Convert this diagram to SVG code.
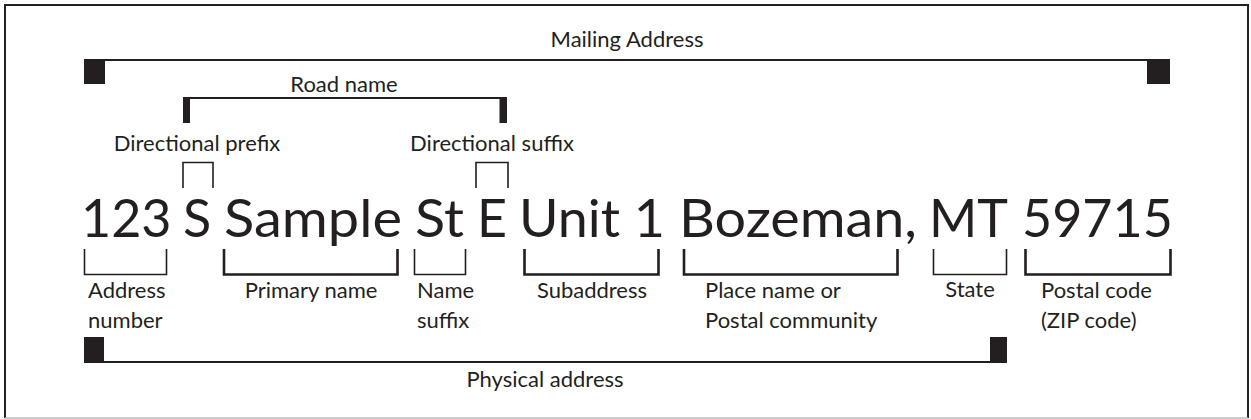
<svg xmlns="http://www.w3.org/2000/svg" width="1251" height="419" viewBox="0 0 1251 419">
<style>
text{font-family:Lato,"Liberation Sans",sans-serif;fill:#231f20}
.lbl{font-size:22px}
.big{font-size:52px}
.mid{text-anchor:middle}
.thin{fill:none;stroke:#231f20;stroke-width:1.6}
.thick{fill:none;stroke:#231f20;stroke-width:2.6}
.bar{fill:#231f20}
.ln{stroke:#231f20;stroke-width:2}
</style>
<rect x="0" y="0" width="1251" height="419" fill="#fff"/>
<path d="M5,418 V5 H1248 V418" fill="none" stroke="#222" stroke-width="2"/>
<line x1="5" y1="418" x2="1248" y2="418" stroke="#bbb" stroke-width="1.5"/>

<g id="connectors">
  <line class="ln" x1="84" y1="60" x2="1170" y2="60"/>
  <rect class="bar" x="84" y="59" width="21" height="25"/>
  <rect class="bar" x="1147" y="59" width="23" height="25"/>
  <line class="ln" x1="183" y1="98" x2="507" y2="98"/>
  <rect class="bar" x="183" y="97" width="7" height="26"/>
  <rect class="bar" x="499.5" y="97" width="7.5" height="26"/>
  <path class="thin" d="M183,188 V162.5 H213 V188"/>
  <path class="thin" d="M476,188 V162.5 H508 V188"/>
  <path class="thin" d="M84.5,249 V274.5 H166.5 V249"/>
  <path class="thick" d="M224,249 V274.5 H397.5 V249"/>
  <path class="thin" d="M414.5,249 V274.5 H465.5 V249"/>
  <path class="thick" d="M524.5,249 V274.5 H658.5 V249"/>
  <path class="thick" d="M684,249 V274.5 H897.5 V249"/>
  <path class="thin" d="M933.5,249 V274.5 H1006.5 V249"/>
  <path class="thick" d="M1025.5,249 V274.5 H1170.5 V249"/>
  <line class="ln" x1="84" y1="362" x2="1007" y2="362"/>
  <rect class="bar" x="84" y="337" width="20" height="26"/>
  <rect class="bar" x="990" y="337" width="17" height="26"/>
</g>

<g id="mailing-address"><text class="lbl mid" x="627" y="47">Mailing Address</text></g>
<g id="road-name"><text class="lbl mid" x="344" y="92">Road name</text></g>
<g id="directional-prefix"><text class="lbl mid" x="197" y="151">Directional prefix</text></g>
<g id="directional-suffix"><text class="lbl mid" x="492" y="151">Directional suffix</text></g>

<g id="address-line">
  <text class="big" x="81" y="237">123</text>
  <text class="big" x="183" y="237">S</text>
  <text class="big" x="224" y="237" textLength="178" lengthAdjust="spacingAndGlyphs">Sample</text>
  <text class="big" x="415" y="237" textLength="49" lengthAdjust="spacingAndGlyphs">St</text>
  <text class="big" x="477" y="237">E</text>
  <text class="big" x="519" y="237" textLength="146" lengthAdjust="spacingAndGlyphs">Unit 1</text>
  <text class="big" x="679" y="237" textLength="238" lengthAdjust="spacingAndGlyphs">Bozeman,</text>
  <text class="big" x="929" y="237">MT</text>
  <text class="big" x="1022" y="237">59715</text>
</g>

<g id="address-number"><text class="lbl" x="88" y="298">Address</text><text class="lbl" x="88" y="328">number</text></g>
<g id="primary-name"><text class="lbl mid" x="311" y="298">Primary name</text></g>
<g id="name-suffix"><text class="lbl" x="417" y="298">Name</text><text class="lbl" x="417" y="328">suffix</text></g>
<g id="subaddress"><text class="lbl mid" x="592" y="298">Subaddress</text></g>
<g id="place-name"><text class="lbl" x="705" y="298">Place name or</text><text class="lbl" x="705" y="328">Postal community</text></g>
<g id="state"><text class="lbl mid" x="970" y="297">State</text></g>
<g id="postal-code"><text class="lbl" x="1041" y="298">Postal code</text><text class="lbl" x="1041" y="328">(ZIP code)</text></g>
<g id="physical-address"><text class="lbl mid" x="545" y="387">Physical address</text></g>
</svg>
